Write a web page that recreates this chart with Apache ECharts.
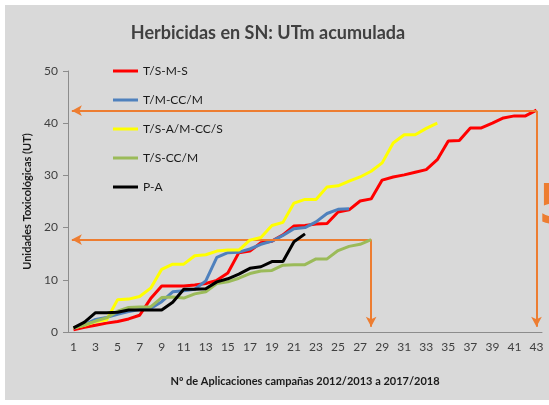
<!DOCTYPE html>
<html>
<head>
<meta charset="utf-8">
<script src="https://cdn.jsdelivr.net/npm/echarts@6/dist/echarts.min.js"></script>
<style>
html, body { margin: 0; padding: 0; background: #fff; }
#panel { position: absolute; left: 5px; top: 5px; width: 544px; height: 395px; background: #d9d9d9; }
#main { position: absolute; left: 0; top: 0; width: 549px; height: 405px; }
</style>
</head>
<body>
<div id="panel"></div>
<div id="main"></div>
<script>
// nº de aplicacion
const categories = ["1","2","3","4","5","6","7","8","9","10","11","12","13","14","15","16","17","18","19","20","21","22",
	"23","24","25","26","27","28","29","30","31","32","33","34","35","36","37","38","39","40","41","42","43"]

// UT acumuladas por rotacion
const tsms = [0.4, 0.9, 1.3, 1.7, 2.0, 2.5, 3.2, 6.4, 8.8, 8.8, 8.8, 9.0, 9.3, 9.9, 11.3, 15.2, 15.5, 17.1, 17.4, 18.6,
	20.3, 20.4, 20.7, 20.8, 23.0, 23.4, 25.1, 25.5, 29.1, 29.7, 30.1, 30.6, 31.1, 33.0, 36.6, 36.7, 39.1, 39.1, 40.0, 41.0,
	41.4, 41.4, 42.5]
const tmccm = [0.7, 1.4, 2.4, 2.8, 3.4, 3.9, 4.3, 4.5, 5.8, 7.7, 7.9, 8.2, 9.8, 14.3, 15.2, 15.3, 15.9, 16.8, 17.4, 18.5,
	19.8, 20.0, 21.1, 22.7, 23.5, 23.6]
const tsamccs = [0.8, 1.3, 2.0, 2.3, 6.2, 6.3, 6.8, 8.4, 12.0, 13.0, 13.0, 14.6, 14.8, 15.5, 15.7, 15.7, 17.6, 18.1, 20.4,
	21.0, 24.7, 25.4, 25.4, 27.8, 28.0, 28.9, 29.7, 30.8, 32.4, 36.2, 37.8, 37.8, 39.0, 40.0]
const tsccm = [0.8, 1.3, 2.1, 2.7, 4.0, 4.7, 4.8, 4.8, 6.6, 6.7, 6.5, 7.3, 7.7, 9.3, 9.6, 10.3, 11.2, 11.7, 11.8, 12.8,
	12.9, 12.9, 14.0, 14.0, 15.6, 16.4, 16.8, 17.7]
const pa = [0.8, 1.9, 3.7, 3.7, 3.8, 4.2, 4.2, 4.2, 4.2, 5.7, 8.2, 8.2, 8.3, 9.6, 10.2, 11.1, 12.2, 12.5, 13.5, 13.5,
	17.3, 18.8]

// flechas naranjas (punto final de T/S-M-S y T/S-CC/M)
const flechaX = [43, 28]
const flechaY = [42.4, 17.7]

const names = ["T/S-M-S", "T/M-CC/M", "T/S-A/M-CC/S", "T/S-CC/M", "P-A"]
const colors = ["#ff0000", "#4f81bd", "#ffff00", "#9bbb59", "#000000"]
const values = [tsms, tmccm, tsamccs, tsccm, pa]

const font = "Lato"
let chart = echarts.init(document.getElementById("main"))

let series = values.map((d, i) => ({
	name: names[i],
	type: "line",
	data: d,
	symbol: "none",
	color: colors[i],
	lineStyle: { width: 3, color: colors[i] },
	z: 3 + i,
}))

let flechas = []
flechaX.forEach((x, i) => {
	flechas.push([{ coord: [x, flechaY[i]] }, { coord: [0.85, flechaY[i]] }])
	flechas.push([{ coord: [x, flechaY[i]] }, { coord: [x, 1.0] }])
})

series.push({
	name: "flechas",
	type: "line",
	xAxisIndex: 1,
	data: [],
	symbol: "none",
	z: 2,
	markLine: {
		silent: true,
		symbol: ["none", "arrow"],
		symbolSize: [8, 10],
		label: { show: false },
		lineStyle: { color: "#ed7d31", width: 2, type: "solid" },
		data: flechas,
	},
})

let option = {
	animation: false,
	textStyle: { fontFamily: font },
	title: {
		text: "Herbicidas en SN: UTm acumulada",
		left: 263,
		textAlign: "center",
		top: 19,
		textStyle: { fontFamily: font, fontSize: 18, fontWeight: "bold", color: "#404040" },
	},
	legend: {
		data: names,
		orient: "vertical",
		icon: "rect",
		left: 108,
		top: 59,
		itemWidth: 25,
		itemHeight: 3,
		itemGap: 15,
		textStyle: { fontFamily: font, fontSize: 12, color: "#1a1a1a", lineHeight: 14 },
	},
	grid: { left: 68, right: 7, top: 71, bottom: 73 },
	xAxis: [
		{
			type: "category",
			data: categories,
			boundaryGap: true,
			name: "Nº de Aplicaciones campañas 2012/2013 a 2017/2018",
			nameLocation: "middle",
			nameGap: 44,
			nameTextStyle: { fontFamily: font, fontSize: 11, fontWeight: "bold", color: "#1a1a1a" },
			axisLine: { lineStyle: { color: "#8c8c8c" } },
			axisTick: { interval: 0, length: 5, lineStyle: { color: "#8c8c8c" } },
			axisLabel: { interval: 1, margin: 9, fontSize: 12, color: "#404040", fontFamily: font },
			splitLine: { show: false },
		},
		{
			type: "value",
			min: 0.5,
			max: 43.5,
			show: false,
		},
	],
	yAxis: {
		type: "value",
		min: 0,
		max: 50,
		interval: 10,
		name: "Unidades Toxicológicas (UT)",
		nameLocation: "middle",
		nameGap: 26,
		nameTextStyle: { fontFamily: font, fontSize: 11, fontWeight: "bold", color: "#1a1a1a" },
		axisLine: { show: true, lineStyle: { color: "#8c8c8c" } },
		axisTick: { show: true, length: 5, lineStyle: { color: "#8c8c8c" } },
		axisLabel: { margin: 10, fontSize: 12, color: "#404040", fontFamily: font },
		splitLine: { show: false },
	},
	graphic: [
		{
			type: "text",
			left: 538,
			top: 180,
			style: { text: "5", font: "bold 56px 'DejaVu Sans'", fill: "#ed7d31" },
		},
	],
	series: series,
}
chart.setOption(option)
</script>
</body>
</html>
